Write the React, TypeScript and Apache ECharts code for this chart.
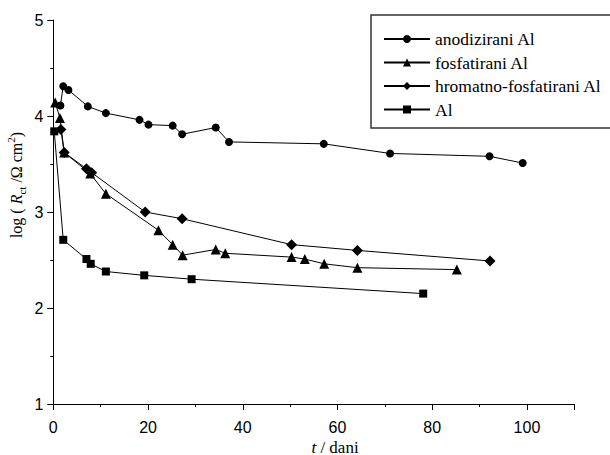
import React, { useEffect, useRef } from "react";
import * as echarts from "echarts";

const seriesNames = ["anodizirani Al", "fosfatirani Al", "hromatno-fosfatirani Al", "Al"];

const anodX = [1.5, 2.1, 3.2, 7.3, 11.1, 18.2, 20.1, 25.2, 27.2, 34.3, 37.1, 57.1, 71.1, 92.1, 99.1];
const anodY = [4.11, 4.31, 4.27, 4.10, 4.03, 3.96, 3.91, 3.90, 3.81, 3.88, 3.73, 3.71, 3.61, 3.58, 3.51];

const fosfX = [0.4, 1.4, 2.3, 7.8, 11.1, 22.2, 25.2, 27.3, 34.3, 36.3, 50.3, 53.1, 57.2, 64.2, 85.2];
const fosfY = [4.14, 3.98, 3.62, 3.40, 3.19, 2.81, 2.66, 2.55, 2.61, 2.57, 2.53, 2.51, 2.46, 2.42, 2.40];

const hromX = [1.6, 2.3, 7.0, 8.1, 19.4, 27.2, 50.3, 64.2, 92.2];
const hromY = [3.86, 3.62, 3.45, 3.41, 3.00, 2.93, 2.66, 2.60, 2.49];

const alX = [0.2, 2.1, 7.0, 7.9, 11.1, 19.2, 29.2, 78.1];
const alY = [3.84, 2.71, 2.51, 2.46, 2.38, 2.34, 2.30, 2.15];

const xTicks = [0, 20, 40, 60, 80, 100];
const yTicks = [1, 2, 3, 4, 5];

const xTitle = "{i|t}{a| / dani}";
const yTitle = "{a|log ( }{i|R}{sub|ct}{a| /Ω cm}{sup|2}{a|)}";

const zip = (xs: number[], ys: number[]) => xs.map((x, i) => [x, ys[i]]);

const SERIF = "'Liberation Serif', 'Times New Roman', serif";
const SANS = "'Liberation Sans', Arial, sans-serif";

export default function App() {
  const ref = useRef<HTMLDivElement>(null);
  useEffect(() => {
    if (!ref.current) return;
    const chart = echarts.init(ref.current, undefined, { renderer: "svg" });
    const mk = (name: string, data: number[][], symbol: string, size: number) => ({
      name,
      type: "line",
      data,
      symbol,
      symbolSize: size,
      showSymbol: true,
      lineStyle: { color: "#000", width: 1 },
      itemStyle: { color: "#000", borderWidth: 0 },
      emphasis: { disabled: true },
    });
    const richBase = {
      a: { fontFamily: SERIF, fontSize: 16, color: "#000", lineHeight: 22, verticalAlign: "middle" },
      i: { fontFamily: SERIF, fontSize: 16, fontStyle: "italic", color: "#000", lineHeight: 22, verticalAlign: "middle" },
      sub: { fontFamily: SERIF, fontSize: 11, color: "#000", lineHeight: 22, verticalAlign: "bottom" },
      sup: { fontFamily: SERIF, fontSize: 11, color: "#000", lineHeight: 22, verticalAlign: "top" },
    };
    chart.setOption({
      animation: false,
      backgroundColor: "#fff",
      grid: { left: 53.3, right: 35.7, top: 20, bottom: 51, containLabel: false, outerBoundsMode: "none" },
      legend: {
        show: true,
        orient: "vertical",
        left: 371,
        top: 15,
        z: 10,
        itemWidth: 46,
        itemHeight: 10,
        itemGap: 5.5,
        padding: [15, 5, 12, 12],
        borderWidth: 0,
        backgroundColor: "transparent",
        data: seriesNames,
        textStyle: { fontFamily: SERIF, fontSize: 17.5, color: "#000" },
      },
      graphic: [
        {
          type: "rect",
          z: 5,
          silent: true,
          shape: { x: 371, y: 15, width: 260, height: 113 },
          style: { fill: "#fff", stroke: "#333", lineWidth: 1.5 },
        },
        {
          type: "text",
          x: 335,
          y: 447,
          silent: true,
          style: {
            text: xTitle,
            rich: {
              i: { fontFamily: SERIF, fontSize: 17, fontStyle: "italic", color: "#000" },
              a: { fontFamily: SERIF, fontSize: 17, color: "#000" },
            },
            align: "center",
            verticalAlign: "middle",
          },
        },
        {
          type: "text",
          x: 16,
          y: 185,
          rotation: Math.PI / 2,
          silent: true,
          style: {
            text: yTitle,
            rich: richBase,
            align: "center",
            verticalAlign: "middle",
          },
        },
      ],
      xAxis: {
        type: "value",
        min: 0,
        max: 110,
        interval: 20,
        axisLine: { show: true, onZero: false, lineStyle: { color: "#000", width: 1 } },
        axisTick: { show: true, inside: false, length: 6, lineStyle: { color: "#000", width: 1 } },
        minorTick: { show: true, splitNumber: 2, length: 3, lineStyle: { color: "#000", width: 1 } },
        axisLabel: {
          fontFamily: SANS,
          fontSize: 16,
          color: "#000",
          margin: 15,
          showMaxLabel: false,
          formatter: (v: number) => (xTicks.includes(v) ? String(v) : ""),
        },
        splitLine: { show: false },
      },
      yAxis: {
        type: "value",
        min: 1,
        max: 5,
        interval: 1,
        axisLine: { show: true, onZero: false, lineStyle: { color: "#000", width: 1 } },
        axisTick: { show: true, inside: false, length: 6, lineStyle: { color: "#000", width: 1 } },
        minorTick: { show: true, splitNumber: 2, length: 3, lineStyle: { color: "#000", width: 1 } },
        axisLabel: {
          fontFamily: SANS,
          fontSize: 16,
          color: "#000",
          margin: 10,
          formatter: (v: number) => (yTicks.includes(v) ? String(v) : ""),
        },
        splitLine: { show: false },
      },
      series: [
        mk(seriesNames[0], zip(anodX, anodY), "circle", 8),
        mk(seriesNames[1], zip(fosfX, fosfY), "triangle", 10),
        mk(seriesNames[2], zip(hromX, hromY), "diamond", 11),
        mk(seriesNames[3], zip(alX, alY), "rect", 8),
      ],
    });
    return () => chart.dispose();
  }, []);
  return (
    <div
      ref={ref}
      style={{ position: "fixed", left: 0, top: 0, width: 610, height: 455, background: "#fff" }}
    />
  );
}
